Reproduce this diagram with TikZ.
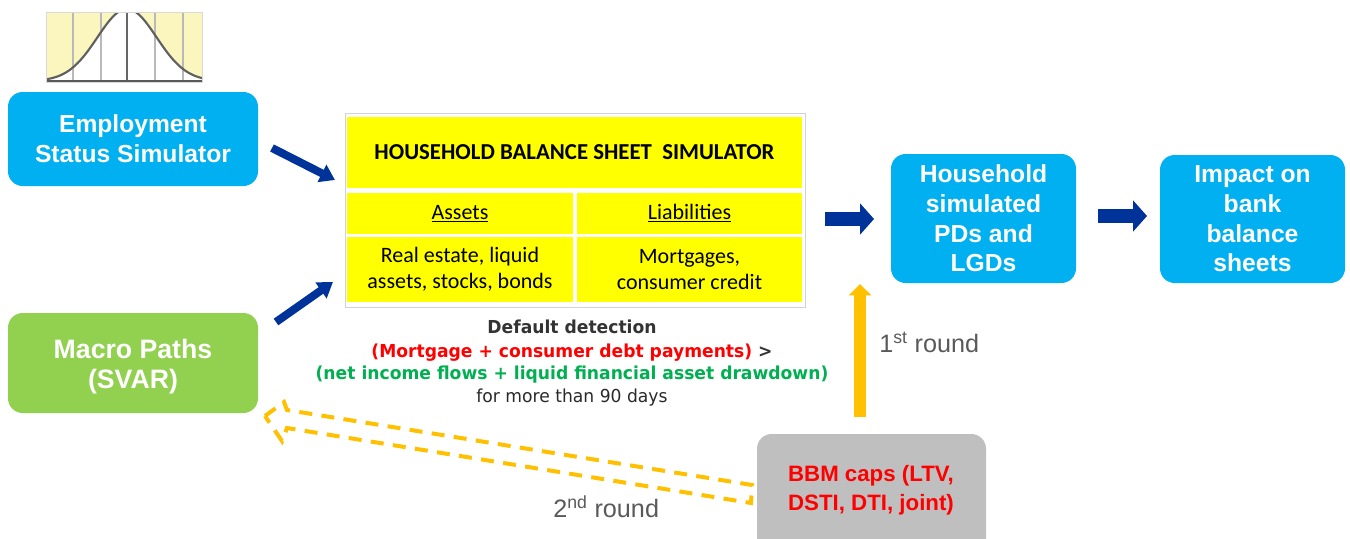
\documentclass[tikz,border=0pt]{standalone}
\usepackage{fontspec}
\setmainfont{Liberation Sans}
\newfontfamily\calfont{Carlito}
\newfontfamily\tahfont[FakeStretch=0.96]{DejaVu Sans}
\usetikzlibrary{arrows.meta}
\definecolor{cyanbox}{RGB}{0,176,240}
\definecolor{greenbox}{RGB}{146,208,80}
\definecolor{navyc}{RGB}{0,51,153}
\definecolor{goldc}{RGB}{255,192,0}
\definecolor{greybox}{RGB}{191,191,191}
\definecolor{txtgrey}{RGB}{89,89,89}
\definecolor{ddgreen}{RGB}{0,176,80}
\definecolor{darkt}{RGB}{51,51,51}
\definecolor{cellyellow}{RGB}{255,255,0}
\definecolor{bellyellow}{RGB}{250,246,190}
\definecolor{redc}{RGB}{255,0,0}
\begin{document}
\begin{tikzpicture}[x=0.75pt,y=-0.75pt,
  sz/.style 2 args={minimum width=#1*0.75pt, minimum height=#2*0.75pt, inner sep=0pt},
  roundbox/.style={rounded corners=11pt, text=white, align=center, inner sep=0pt},
  bluefont/.style={font=\bfseries\fontsize{18.5pt}{22.3pt}\selectfont},
  cell/.style={fill=cellyellow, inner sep=0pt, align=center, font=\calfont\fontsize{16.5pt}{19.5pt}\selectfont},
  navyarrow/.style={draw=navyc, line width=6pt, -{Triangle[length=11pt,width=14pt]}},
  blockarrow/.style={draw=navyc, line width=11pt, -{Triangle[length=10.5pt,width=23pt]}},
  ddtext/.style={anchor=base, inner sep=0pt, font=\tahfont\fontsize{13.4pt}{17pt}\selectfont},
  roundtext/.style={anchor=base west, inner sep=0pt, text=txtgrey, font=\fontsize{18.9pt}{21pt}\selectfont},
]
\useasboundingbox (0,0) rectangle (1350,539);
\clip (0,0) rectangle (1350,539);

% bell curve picture
\begin{scope}
\fill[bellyellow] (46,12) rectangle (202,82);
\clip (46,12) rectangle (202,82);
\fill[white] (46,82) -- plot[domain=46:202,samples=90] (\x,{81-72*exp(-((\x-127)^2)/1750)}) -- (202,82) -- cycle;
\foreach \xx in {73,101,155,183} \draw[gray!55, line width=0.8pt] (\xx,12) -- (\xx,82);
\draw[gray!80!black, line width=1.4pt] (127,12) -- (127,82);
\draw[gray!75!black, line width=1.6pt] plot[domain=46:202,samples=90] (\x,{81-72*exp(-((\x-127)^2)/1750)});
\draw[gray!70!black, line width=1.5pt] (46,81) -- (202,81);
\end{scope}
\draw[gray!30, line width=0.4pt] (46,12) rectangle (202,82);

% left boxes
\node[roundbox, bluefont, fill=cyanbox, sz={250}{94}] (emp) at (133,139)
  {\fontsize{18.45pt}{21pt}\selectfont Employment\\Status Simulator};
\node[roundbox, fill=greenbox, sz={250}{100}] (macro) at (133,363) {};
\node[align=center, inner sep=0pt, text=white, font=\bfseries\fontsize{20pt}{22.5pt}\selectfont] (macrotxt) at (133,367)
  {Macro Paths\\(SVAR)};

% balance sheet table
\node[draw=gray!35, fill=white, line width=0.6pt, sz={460}{194}] (tbl) at (575,210) {};
\node[cell, sz={455}{71}] (title) at (574.5,152.5)
  {\bfseries\fontsize{17.1pt}{19.5pt}\selectfont HOUSEHOLD BALANCE SHEET\ \ SIMULATOR};
\node[cell, sz={226}{41}] (assets) at (460,213.5) {\underline{Assets}};
\node[cell, sz={225}{41}] (liab) at (689.5,213.5) {\underline{Liabilities}};
\node[cell, sz={226}{65}] (assetsl) at (460,269.5) {Real estate, liquid\\assets, stocks, bonds};
\node[cell, sz={225}{65}] (liabl) at (689.5,269.5) {Mortgages,\\consumer credit};

% right boxes
\node[roundbox, bluefont, fill=cyanbox, sz={185}{129}] (hh) at (983.5,218.5)
  {Household\\simulated\\PDs and\\LGDs};
\node[roundbox, bluefont, fill=cyanbox, sz={185}{128}] (imp) at (1252.5,219)
  {Impact on\\bank\\balance\\sheets};

% BBM box
\node[fill=greybox, rounded corners=11pt, sz={229}{125}] (bbm) at (871.5,496.5) {};
\node[align=center, inner sep=0pt, text=redc, font=\bfseries\fontsize{16.7pt}{21.75pt}\selectfont] (bbmtxt) at (871,490)
  {BBM caps (LTV,\\DSTI, DTI, joint)};

% default detection text
\node[ddtext, text=darkt, font=\tahfont\bfseries\fontsize{13.4pt}{17pt}\selectfont] (dd1) at (572,333) {Default detection};
\node[ddtext, font=\tahfont\bfseries\fontsize{13.4pt}{17pt}\selectfont] (dd2) at (572,357) {\textcolor{redc}{(Mortgage + consumer debt payments)}\ \textcolor{darkt}{>}};
\node[ddtext, text=ddgreen, font=\tahfont\bfseries\fontsize{13.4pt}{17pt}\selectfont] (dd3) at (572,379) {(net income flows + liquid financial asset drawdown)};
\node[ddtext, text=darkt!80!black] (dd4) at (572,402) {for more than 90 days};

% arrows
\coordinate (ea) at (272,148); \coordinate (eb) at (335,180);
\draw[navyarrow] (ea) -- (eb);
\coordinate (ma) at (276,322); \coordinate (mb) at (333,282);
\draw[navyarrow] (ma) -- (mb);
\coordinate (b1a) at (825,219); \coordinate (b1b) at (874,219);
\draw[blockarrow] (b1a) -- (b1b);
\coordinate (b2a) at (1098,216); \coordinate (b2b) at (1147,216);
\draw[blockarrow] (b2a) -- (b2b);
\coordinate (ra) at (860,417); \coordinate (rb) at (860,284);
\draw[draw=goldc, line width=9pt, -{Triangle[length=8.5pt,width=16.5pt]}] (ra) -- (rb);

\node[roundtext] (r1) at (879,352) {1\textsuperscript{st} round};
\node[roundtext] (r2) at (553,517) {2\textsuperscript{nd} round};

% dashed hollow return arrow
\draw[goldc, line width=3pt, dash pattern=on 9.75pt off 7pt, line join=miter]
  (265,416) -- (284,402) -- (287,410) -- (752,485) -- (751,503) -- (287,428) -- (282,441) -- cycle;

\end{tikzpicture}
\end{document}
